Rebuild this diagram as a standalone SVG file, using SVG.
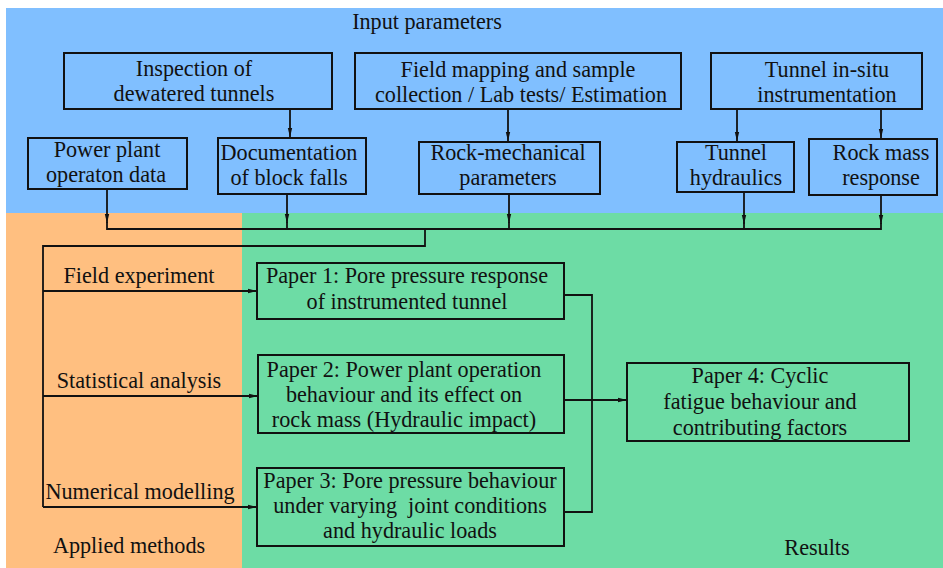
<svg xmlns="http://www.w3.org/2000/svg" width="943" height="568" viewBox="0 0 943 568">
<style>
text{font-family:'Liberation Serif','Times New Roman',serif;font-size:22.2px;fill:#111;text-anchor:middle}
.box{fill:none;stroke:#111;stroke-width:2}
.ln{fill:none;stroke:#111;stroke-width:1.8}
</style>
<defs>
<marker id="ah" markerUnits="userSpaceOnUse" markerWidth="10" markerHeight="6" refX="9" refY="3" orient="auto">
<path d="M0,0.8 L9,3 L0,5.2 z" fill="#111"/>
</marker>
</defs>
<rect x="0" y="0" width="943" height="568" fill="#fff"/>
<rect x="6" y="8" width="937" height="206" fill="#80bfff"/>
<rect x="6" y="213" width="236" height="355" fill="#ffbf80"/>
<rect x="242" y="213" width="701" height="355" fill="#6ddca5"/>
<text x="427" y="29">Input parameters</text>
<text x="129" y="553">Applied methods</text>
<text x="817" y="555">Results</text>
<text x="139" y="283">Field experiment</text>
<text x="139" y="388">Statistical analysis</text>
<text x="140" y="499">Numerical modelling</text>
<g id="connectors">
<path class="ln" d="M290,109 V137" marker-end="url(#ah)"/>
<path class="ln" d="M508,109 V141" marker-end="url(#ah)"/>
<path class="ln" d="M737,109 V141" marker-end="url(#ah)"/>
<path class="ln" d="M881,109 V138" marker-end="url(#ah)"/>
<path class="ln" d="M107,189 V223" marker-end="url(#ah)"/>
<path class="ln" d="M287,194 V223" marker-end="url(#ah)"/>
<path class="ln" d="M509,194 V223" marker-end="url(#ah)"/>
<path class="ln" d="M744,192 V224" marker-end="url(#ah)"/>
<path class="ln" d="M881,195 V224" marker-end="url(#ah)"/>
<path class="ln" d="M107,222 V229 H881 V223 M287,222 V229 M509,222 V229 M744,222 V229"/>
<path class="ln" d="M425,229 V246 H43 V507"/>
<path class="ln" d="M43,291 H257" marker-end="url(#ah)"/>
<path class="ln" d="M43,396 H258" marker-end="url(#ah)"/>
<path class="ln" d="M43,507 H257" marker-end="url(#ah)"/>
<path class="ln" d="M564,295 H592 V512 H564"/>
<path class="ln" d="M564,400 H627" marker-end="url(#ah)"/>
</g>

<g id="inspection"><rect class="box" x="64" y="53" width="268" height="56"/><text x="194" y="76">Inspection of</text><text x="194" y="101">dewatered tunnels</text></g>
<g id="fieldmapping"><rect class="box" x="355" y="53" width="326" height="56"/><text x="518" y="77">Field mapping and sample</text><text x="521" y="102">collection / Lab tests/ Estimation</text></g>
<g id="insitu"><rect class="box" x="711" y="53" width="211" height="56"/><text x="827" y="77">Tunnel in-situ</text><text x="827" y="102">instrumentation</text></g>
<g id="powerplant"><rect class="box" x="28" y="138" width="159" height="51"/><text x="107" y="157">Power plant</text><text x="106" y="182">operaton data</text></g>
<g id="documentation"><rect class="box" x="218" y="138" width="148" height="56"/><text x="289" y="160">Documentation</text><text x="289" y="185">of block falls</text></g>
<g id="rockmech"><rect class="box" x="419" y="142" width="181" height="52"/><text x="508" y="160">Rock-mechanical</text><text x="508" y="185">parameters</text></g>
<g id="hydraulics"><rect class="box" x="677" y="142" width="117" height="50"/><text x="736" y="160">Tunnel</text><text x="736" y="185">hydraulics</text></g>
<g id="rockmass"><rect class="box" x="809" y="139" width="128" height="56"/><text x="881" y="160">Rock mass</text><text x="881" y="185">response</text></g>
<g id="paper1"><rect class="box" x="257" y="263" width="307" height="56"/><text x="407" y="283">Paper 1: Pore pressure response</text><text x="407" y="309">of instrumented tunnel</text></g>
<g id="paper2"><rect class="box" x="258" y="355" width="306" height="78"/><text x="404" y="377">Paper 2: Power plant operation</text><text x="404" y="402">behaviour and its effect on</text><text x="404" y="427">rock mass (Hydraulic impact)</text></g>
<g id="paper3"><rect class="box" x="257" y="468" width="307" height="78"/><text x="410" y="488">Paper 3: Pore pressure behaviour</text><text x="410" y="513" xml:space="preserve">under varying  joint conditions</text><text x="410" y="538">and hydraulic loads</text></g>
<g id="paper4"><rect class="box" x="627" y="363" width="282" height="78"/><text x="760" y="383">Paper 4: Cyclic</text><text x="760" y="409">fatigue behaviour and</text><text x="760" y="435">contributing factors</text></g>
</svg>
